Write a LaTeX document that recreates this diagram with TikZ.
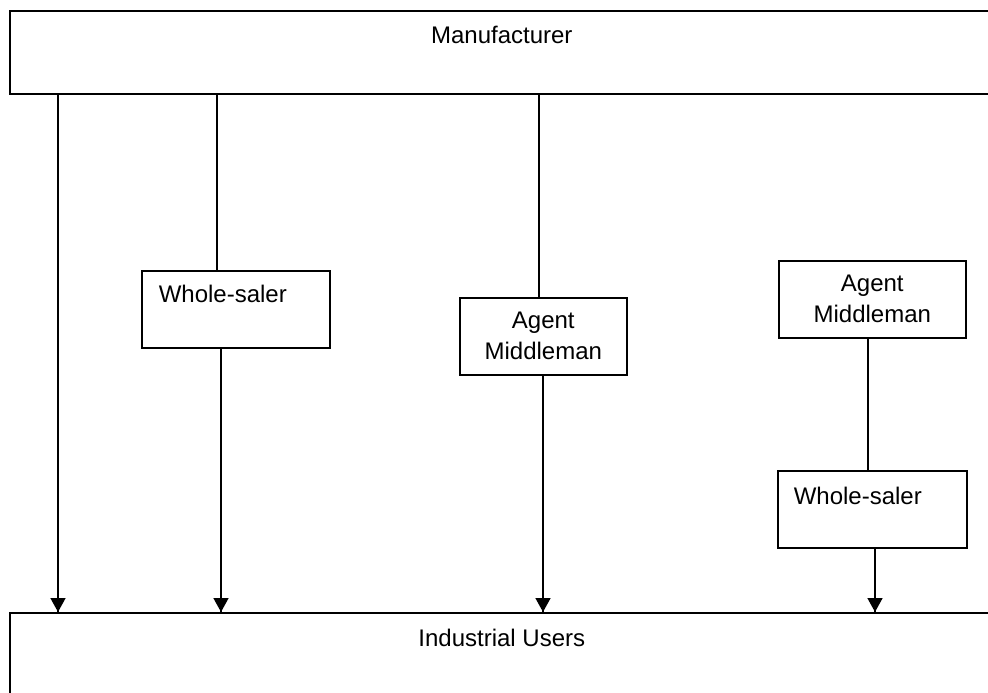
\documentclass[tikz,border=0pt]{standalone}
\usepackage{fontspec}
\setmainfont{Liberation Sans}
\usepackage{tikz}
\usetikzlibrary{arrows.meta}
\usetikzlibrary{decorations.markings}
\usetikzlibrary{positioning}
\tikzset{flow/.style = {decoration={markings,
                                    mark=at position 1 with {\arrow{Triangle[width=15pt,length=14pt]}}},
                        postaction={decorate}}}
\tikzset{box/.style = {draw, line width=1.6pt, inner sep=0pt, anchor=north west,
                       font=\fontsize{24}{31}\selectfont}}
\begin{document}
\begin{tikzpicture}[x=1pt, y=-1pt, line width=1.6pt]
      \useasboundingbox (0, 0) rectangle (988, 693);

      \node [box, minimum width=984pt, text height=33pt, text depth=50pt] (maker) at (9, 10) {Manufacturer};
      \node [box, minimum width=984pt, text height=34pt, text depth=66pt] (users) at (9, 612) {Industrial Users};

      \node [box, inner xsep=17pt, text width=154pt, align=left, text height=32pt, text depth=45pt] (sale1) at (141, 270) {Whole-saler};
      \node [box, minimum width=167pt, minimum height=77pt, align=center] (agent1) at (459, 297) {Agent\\Middleman};
      \node [box, minimum width=187pt, minimum height=77pt, align=center] (agent2) at (778, 260) {Agent\\Middleman};
      \node [box, inner xsep=16pt, text width=157pt, align=left, text height=34pt, text depth=43pt] (sale2) at (777, 470) {Whole-saler};

      \coordinate (x1) at (58, 0);
      \coordinate (x2) at (217, 0);
      \coordinate (x3) at (221, 0);
      \coordinate (x4) at (539, 0);
      \coordinate (x5) at (543, 0);
      \coordinate (x6) at (868, 0);
      \coordinate (x7) at (875, 0);

      \draw [flow] (maker.south -| x1) -- (users.north -| x1);
      \draw (maker.south -| x2) -- (sale1.north -| x2);
      \draw [flow] (sale1.south -| x3) -- (users.north -| x3);
      \draw (maker.south -| x4) -- (agent1.north -| x4);
      \draw [flow] (agent1.south -| x5) -- (users.north -| x5);
      \draw (agent2.south -| x6) -- (sale2.north -| x6);
      \draw [flow] (sale2.south -| x7) -- (users.north -| x7);
    \end{tikzpicture}
\end{document}
